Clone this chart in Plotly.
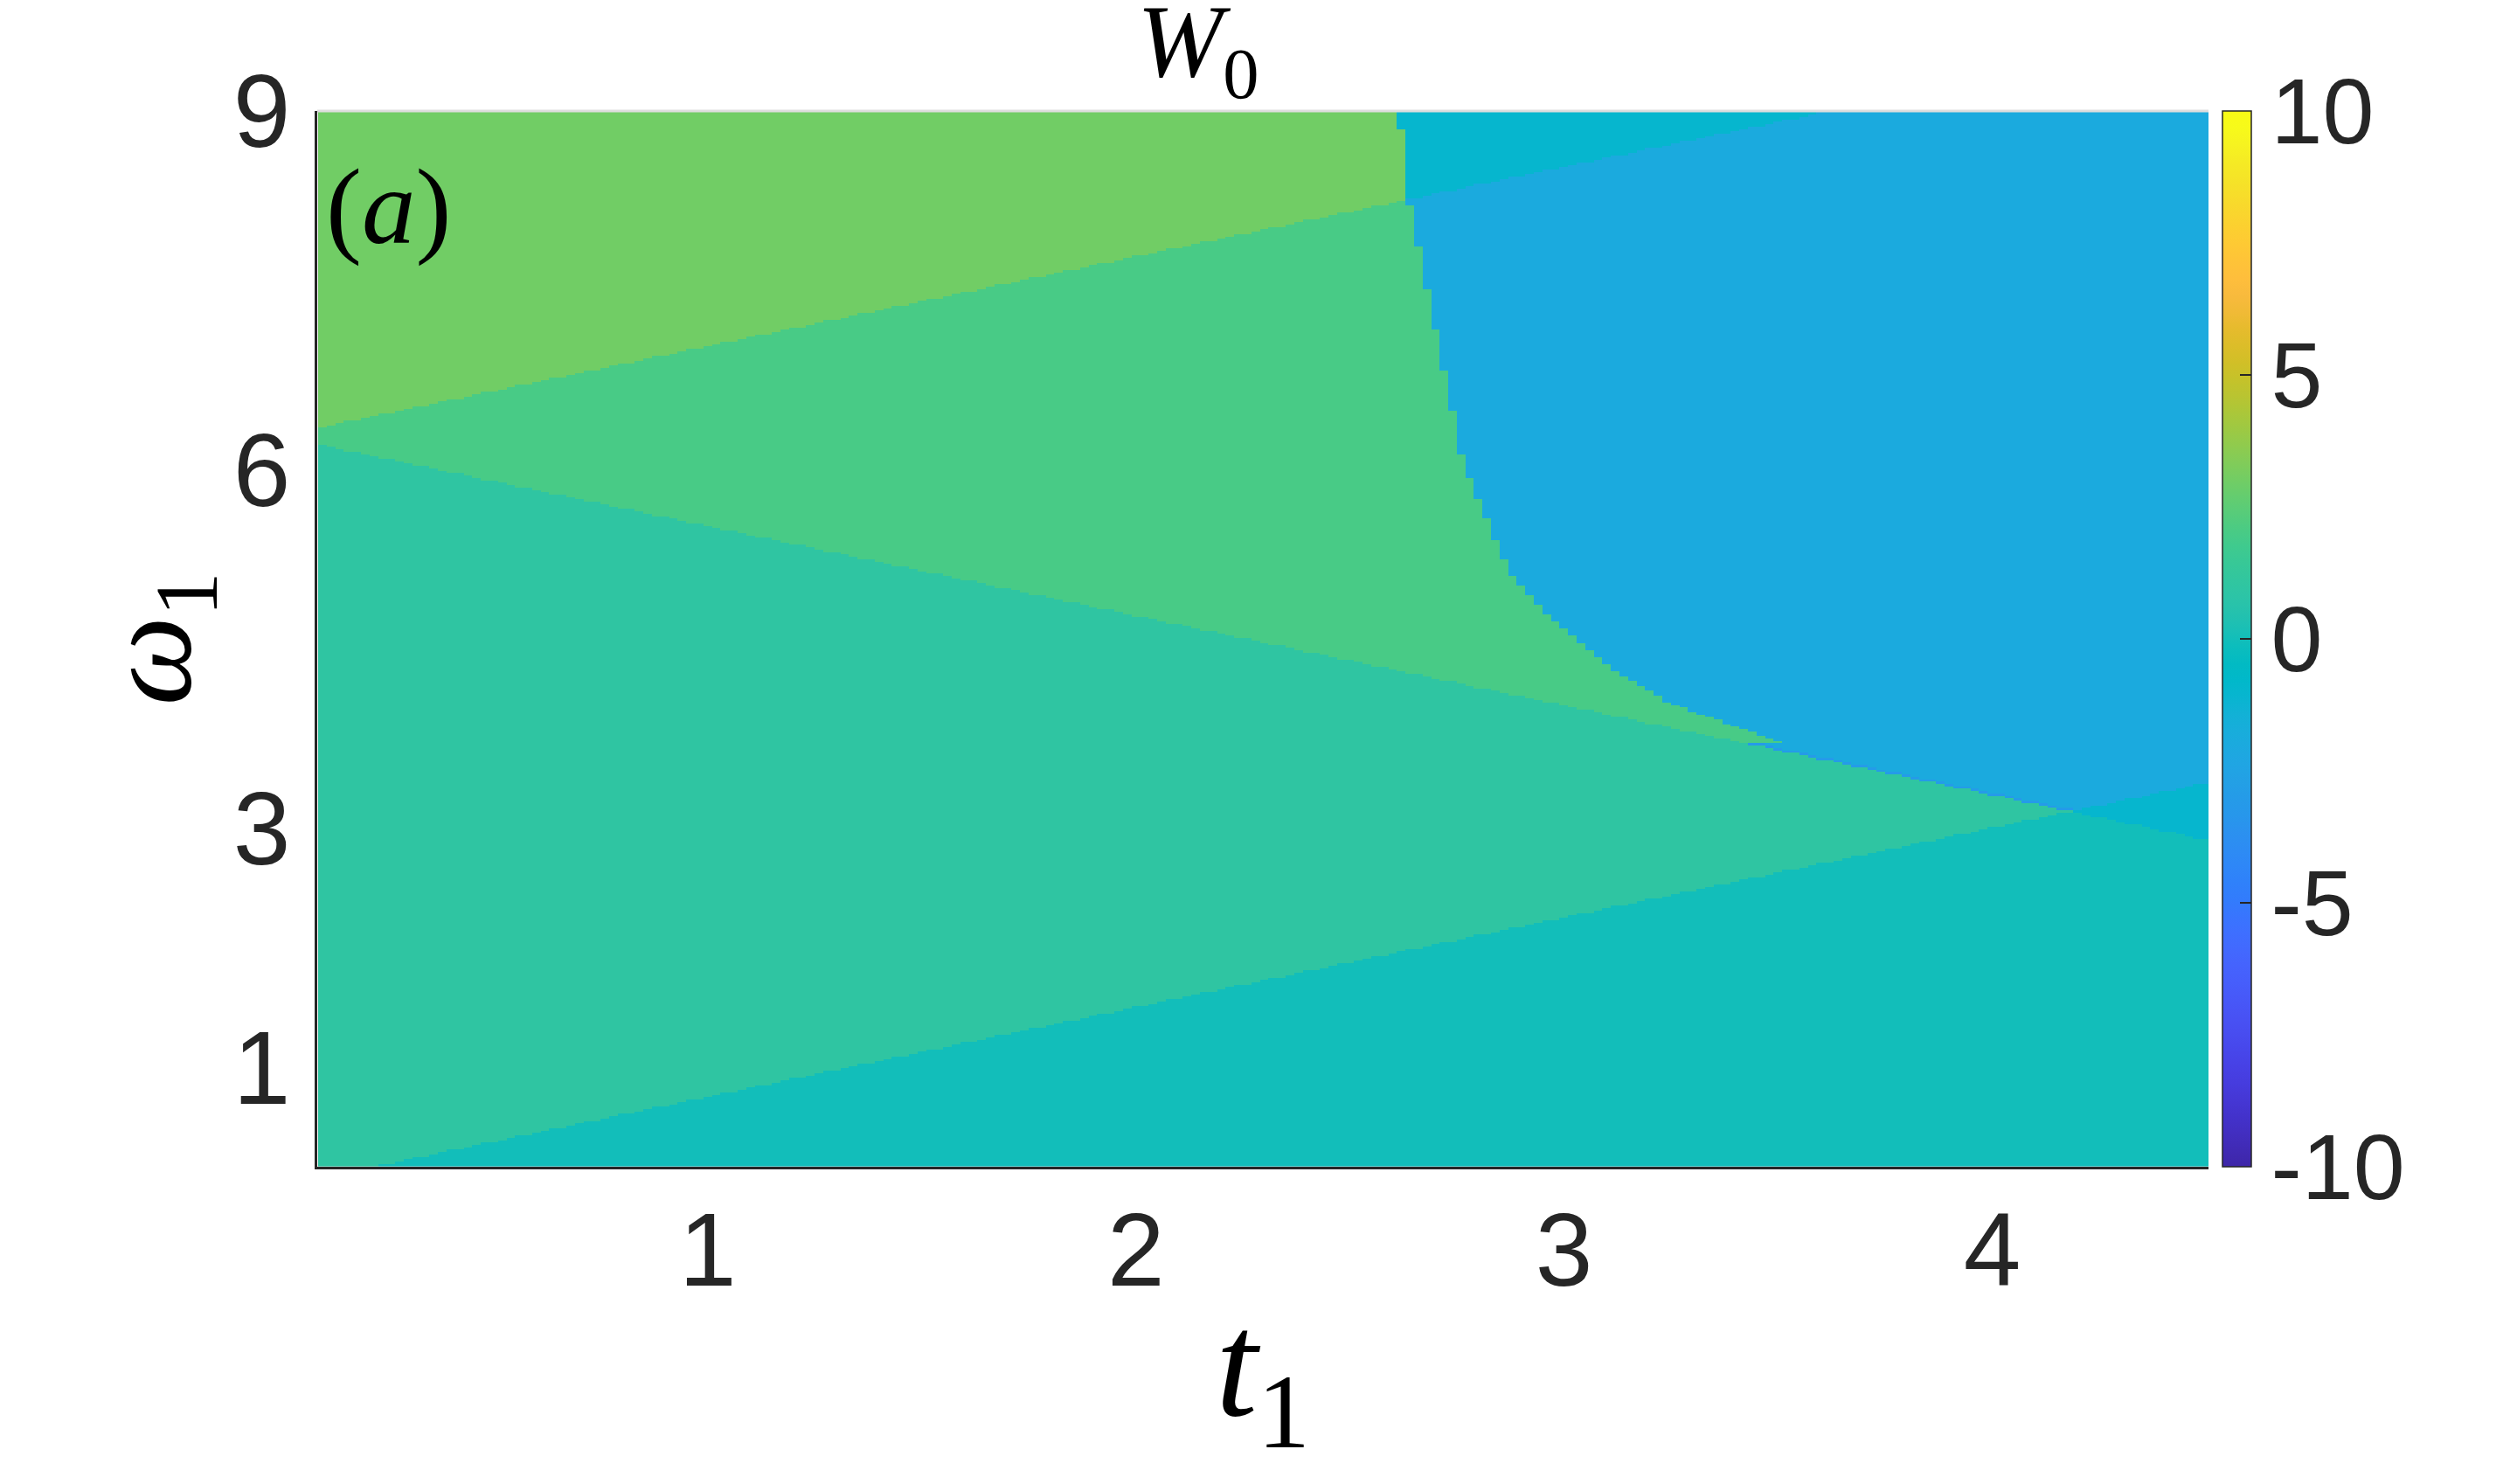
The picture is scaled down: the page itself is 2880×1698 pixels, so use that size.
import numpy as np
import plotly.graph_objects as go

# W0 value of each phase region
w_top_left = 3
w_mid_green = 2
w_lower_green = 1
w_bottom = 0
w_strip = -1
w_blue = -2
w_edge = -3   # thin darker seam where the blue phase meets the lower phases

# straight phase boundaries as (t1, omega1) end points
line_a_t = [0.0, 4.5]
line_a_w = [6.28, 9.66]
line_b_t = [0.0, 4.5]
line_b_w = [6.28, 2.90]
line_c_t = [0.0, 4.5]
line_c_w = [0.0, 3.375]

# curved edge of the blue phase: t1 where it starts, for each omega1
curve_w = [3.71, 3.88, 4.05, 4.35, 4.76, 5.12, 6.05, 6.76, 7.57, 8.27, 9.0]
curve_t = [3.515, 3.378, 3.243, 3.106, 2.969, 2.875, 2.765, 2.724, 2.677, 2.636, 2.616]
seam_t = [3.40, 4.20]   # t1 span of the darker seam

# sampling grid of the scan
t1 = np.arange(0.10, 4.5001, 0.02)
w1 = np.arange(0.18, 9.0001, 0.02)

x_ticks = [1, 2, 3, 4]
y_ticks = [1, 3, 6, 9]
cb_ticks = [-10, -5, 0, 5, 10]
cb_text = ['-10', '-5', '0', '5', '10']

# MATLAB parula
parula_rgb = [
    (0.2422, 0.1504, 0.6603), (0.2504, 0.1650, 0.7076), (0.2578, 0.1818, 0.7511),
    (0.2647, 0.1978, 0.7952), (0.2706, 0.2147, 0.8364), (0.2751, 0.2342, 0.8710),
    (0.2783, 0.2559, 0.8991), (0.2803, 0.2782, 0.9221), (0.2813, 0.3006, 0.9414),
    (0.2810, 0.3228, 0.9579), (0.2795, 0.3447, 0.9717), (0.2760, 0.3667, 0.9829),
    (0.2699, 0.3892, 0.9906), (0.2602, 0.4123, 0.9952), (0.2440, 0.4358, 0.9988),
    (0.2206, 0.4603, 0.9973), (0.1963, 0.4847, 0.9892), (0.1834, 0.5074, 0.9798),
    (0.1786, 0.5289, 0.9682), (0.1764, 0.5499, 0.9520), (0.1687, 0.5703, 0.9359),
    (0.1540, 0.5902, 0.9218), (0.1460, 0.6091, 0.9079), (0.1380, 0.6276, 0.8973),
    (0.1248, 0.6459, 0.8883), (0.1113, 0.6635, 0.8763), (0.0952, 0.6798, 0.8598),
    (0.0689, 0.6948, 0.8394), (0.0297, 0.7082, 0.8163), (0.0036, 0.7203, 0.7917),
    (0.0067, 0.7312, 0.7660), (0.0433, 0.7411, 0.7394), (0.0964, 0.7500, 0.7120),
    (0.1408, 0.7584, 0.6842), (0.1717, 0.7670, 0.6554), (0.1938, 0.7758, 0.6251),
    (0.2161, 0.7843, 0.5923), (0.2470, 0.7918, 0.5567), (0.2906, 0.7973, 0.5188),
    (0.3406, 0.8008, 0.4789), (0.3909, 0.8029, 0.4354), (0.4456, 0.8024, 0.3909),
    (0.5044, 0.7993, 0.3480), (0.5616, 0.7942, 0.3045), (0.6174, 0.7876, 0.2612),
    (0.6720, 0.7793, 0.2227), (0.7242, 0.7698, 0.1910), (0.7738, 0.7598, 0.1646),
    (0.8203, 0.7498, 0.1535), (0.8634, 0.7406, 0.1596), (0.9035, 0.7330, 0.1774),
    (0.9393, 0.7288, 0.2100), (0.9728, 0.7298, 0.2394), (0.9956, 0.7434, 0.2371),
    (0.9970, 0.7659, 0.2199), (0.9952, 0.7893, 0.2028), (0.9892, 0.8136, 0.1885),
    (0.9780, 0.8397, 0.1778), (0.9676, 0.8666, 0.1639), (0.9610, 0.8946, 0.1537),
    (0.9597, 0.9232, 0.1408), (0.9628, 0.9519, 0.1260), (0.9691, 0.9811, 0.1039),
    (0.9769, 0.9839, 0.0805),
]
n = len(parula_rgb)
parula = [[i / (n - 1), 'rgb(%d,%d,%d)' % tuple(round(c * 255) for c in rgb)]
          for i, rgb in enumerate(parula_rgb)]

# assign every grid cell to its phase
T, W = np.meshgrid(t1, w1)
A = np.interp(T, line_a_t, line_a_w)
B = np.interp(T, line_b_t, line_b_w)
C = np.interp(T, line_c_t, line_c_w)
right_of_curve = (W < curve_w[0]) | (T > np.interp(W, curve_w, curve_t))

z = np.where(
    W > A, np.where(right_of_curve, w_strip, w_top_left),
    np.where(W > B,
             np.where(W > C, np.where(right_of_curve, w_blue, w_mid_green), w_strip),
             np.where(W > C, w_lower_green, w_bottom))).astype(float)

# one-cell seam just above the lower edge of the blue phase
floor = np.maximum(B, C)
seam = (z == w_blue) & (W - floor < 0.02) & (T > seam_t[0]) & (T < seam_t[1])
z[seam] = w_edge

ink = '#262626'
tick_font = dict(family='Liberation Sans, Arial, sans-serif', size=118, color=ink)
cb_font = dict(family='Liberation Sans, Arial, sans-serif', size=106, color=ink)
math_font = 'Liberation Serif, Times New Roman, serif'

fig = go.Figure()
fig.add_trace(go.Heatmap(
    x=t1, y=w1, z=z,
    colorscale=parula, zmin=-10, zmax=10, zsmooth=False,
    hovertemplate='t1=%{x:.2f}<br>w1=%{y:.2f}<br>W0=%{z}<extra></extra>',
    colorbar=dict(
        x=1.0074, xanchor='left', xpad=0, ypad=0,
        y=0.5, yanchor='middle', len=1, lenmode='fraction',
        thickness=33, thicknessmode='pixels',
        outlinecolor=ink, outlinewidth=1.5,
        tickmode='array', tickvals=cb_ticks, ticktext=cb_text,
        ticks='inside', ticklen=13, tickwidth=1.5, tickcolor=ink,
        tickfont=cb_font,
    ),
))

fig.update_layout(
    width=2872, height=1690, autosize=False,
    margin=dict(l=355, r=353, t=119, b=363),
    plot_bgcolor='white', paper_bgcolor='white',
    xaxis=dict(
        range=[0.088, 4.505], tickmode='array', tickvals=x_ticks,
        ticks='', tickfont=tick_font, ticklabelstandoff=-9,
        showgrid=False, zeroline=False, automargin=False,
        showline=True, linecolor=ink, linewidth=3,
        title=dict(text='<i>t</i><sub>1</sub>', standoff=5,
                   font=dict(family=math_font, size=172, color='black')),
    ),
    yaxis=dict(
        range=[0.17, 9.0], tickmode='array', tickvals=y_ticks,
        ticks='', tickfont=tick_font, ticklabelstandoff=4,
        showgrid=False, zeroline=False, automargin=False,
        showline=True, linecolor=ink, linewidth=3,
        title=dict(text='<i>ω</i><sub>1</sub>', standoff=0,
                   font=dict(family=math_font, size=145, color='black')),
    ),
    shapes=[dict(type='line', xref='paper', yref='paper', x0=0, x1=1, y0=1, y1=1,
                 line=dict(color='#dddddd', width=3))],
    annotations=[
        dict(text='<i>W</i><sub>0</sub>', xref='paper', yref='paper',
             x=0.466, y=0.996, xanchor='center', yanchor='bottom', showarrow=False,
             font=dict(family=math_font, size=118, color='black')),
        dict(text='(<i>a</i>)', xref='paper', yref='paper',
             x=0.0037, y=0.909, xanchor='left', yanchor='middle', showarrow=False,
             font=dict(family=math_font, size=123, color='black')),
    ],
)

fig.write_html('out.html')
